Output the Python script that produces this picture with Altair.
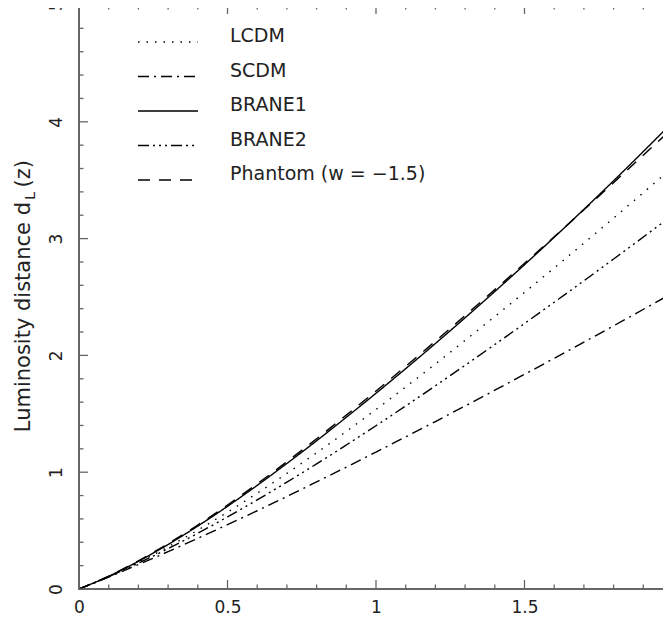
import altair as alt
import pandas as pd

# ---- data ----
z = [0.0, 0.1, 0.2, 0.3, 0.4, 0.5, 0.6, 0.7, 0.8, 0.9, 1.0, 1.2, 1.4, 1.6, 1.8, 2.0]
lcdm = [0.0, 0.107, 0.228, 0.361, 0.504, 0.658, 0.820, 0.990, 1.166, 1.349, 1.537, 1.927, 2.333, 2.749, 3.176, 3.612]
scdm = [0.0, 0.102, 0.209, 0.320, 0.434, 0.551, 0.670, 0.792, 0.917, 1.043, 1.172, 1.434, 1.702, 1.975, 2.253, 2.536]
brane1 = [0.0, 0.109, 0.237, 0.381, 0.539, 0.708, 0.887, 1.075, 1.269, 1.470, 1.676, 2.102, 2.547, 3.011, 3.495, 4.000]
brane2 = [0.0, 0.105, 0.221, 0.345, 0.477, 0.617, 0.763, 0.915, 1.071, 1.233, 1.398, 1.740, 2.093, 2.455, 2.825, 3.203]
phantom = [0.0, 0.111, 0.241, 0.388, 0.548, 0.719, 0.901, 1.090, 1.286, 1.489, 1.695, 2.122, 2.563, 3.016, 3.479, 3.950]

series_names = ["LCDM", "SCDM", "BRANE1", "BRANE2", "Phantom"]
legend_labels = ["LCDM", "SCDM", "BRANE1", "BRANE2", "Phantom  (w = \u22121.5)"]
dash_patterns = [[1.5, 7], [11, 5, 2, 5], [1, 0], [11, 4, 2, 4, 2, 4, 2, 4], [12, 9]]

x_major = [0, 0.5, 1, 1.5, 2]
x_minor = [0.1, 0.2, 0.3, 0.4, 0.6, 0.7, 0.8, 0.9, 1.1, 1.2, 1.3, 1.4, 1.6, 1.7, 1.8, 1.9]
y_major = [0, 1, 2, 3, 4, 5]
y_minor = [0.2, 0.4, 0.6, 0.8, 1.2, 1.4, 1.6, 1.8, 2.2, 2.4, 2.6, 2.8,
           3.2, 3.4, 3.6, 3.8, 4.2, 4.4, 4.6, 4.8]

W, H = 594, 584
FONT = "DejaVu Sans"
AX = "#666666"

rows = []
for name, vals in zip(series_names, [lcdm, scdm, brane1, brane2, phantom]):
    for zz, v in zip(z, vals):
        rows.append({"z": zz, "dL": v, "series": name})
df = pd.DataFrame(rows)

dash_scale = alt.Scale(domain=series_names, range=dash_patterns)
xs = alt.Scale(domain=[0, 2], nice=False, zero=False)
ys = alt.Scale(domain=[0, 5], nice=False, zero=False)

curves = alt.Chart(df).mark_line(color="black", strokeWidth=1.4, interpolate="monotone", clip=True).encode(
    x=alt.X("z:Q", scale=xs, axis=alt.Axis(values=x_major, format="~g", title=None, ticks=False, tickSize=0,
                                          domain=False, grid=False, labelFontSize=17, labelFont=FONT,
                                          labelColor="#222", labelPadding=10, labelFlush=False,
                                          labelOverlap=False, labelBound=False)),
    y=alt.Y("dL:Q", scale=ys, axis=alt.Axis(values=y_major, format="d", title=None, ticks=False, tickSize=0,
                                           domain=False, grid=False, labelFontSize=17, labelFont=FONT,
                                           labelColor="#222", labelAngle=270, labelAlign="center",
                                           labelBaseline="alphabetic", labelPadding=18, labelFlush=False,
                                           labelOverlap=False, labelBound=False)),
    strokeDash=alt.StrokeDash("series:N", scale=dash_scale, legend=None),
    detail="series:N",
)

# inward ticks on all four sides
def xticks(vals, length):
    d = pd.DataFrame({"v": vals})
    b = alt.Chart(d).mark_rule(color=AX, strokeWidth=1.3).encode(
        x=alt.X("v:Q", scale=xs), y=alt.value(H), y2=alt.value(H - length))
    t = alt.Chart(d).mark_rule(color=AX, strokeWidth=1.3).encode(
        x=alt.X("v:Q", scale=xs), y=alt.value(0), y2=alt.value(length))
    return [b, t]

def yticks(vals, length):
    d = pd.DataFrame({"v": vals})
    l = alt.Chart(d).mark_rule(color=AX, strokeWidth=1.3).encode(
        y=alt.Y("v:Q", scale=ys), x=alt.value(0), x2=alt.value(length))
    r = alt.Chart(d).mark_rule(color=AX, strokeWidth=1.3).encode(
        y=alt.Y("v:Q", scale=ys), x=alt.value(W), x2=alt.value(W - length))
    return [l, r]

tick_layers = xticks(x_major, 9) + xticks(x_minor, 4.5) + yticks(y_major, 9) + yticks(y_minor, 4.5)

# legend (drawn inside the plot)
leg = pd.DataFrame({"series": series_names, "label": legend_labels,
                    "ly": [37 + 34.5 * i for i in range(len(series_names))]})
leg_lines = alt.Chart(leg).mark_rule(color="black", strokeWidth=1.4).encode(
    x=alt.value(59), x2=alt.value(119),
    y=alt.Y("ly:Q", scale=None),
    strokeDash=alt.StrokeDash("series:N", scale=dash_scale, legend=None),
)
leg_text = alt.Chart(leg).mark_text(align="left", baseline="alphabetic", fontSize=19, font=FONT,
                                    color="#222").encode(
    x=alt.value(151), y=alt.Y("ly:Q", scale=None), text="label:N")

# y-axis title with subscript
t1 = alt.Chart(pd.DataFrame({"t": ["Luminosity distance d"]})).mark_text(
    angle=270, align="right", baseline="alphabetic", fontSize=21, font=FONT, color="#222").encode(
    x=alt.value(-49), y=alt.value(197), text="t:N")
t2 = alt.Chart(pd.DataFrame({"t": ["L"]})).mark_text(
    angle=270, align="right", baseline="alphabetic", fontSize=14, font=FONT, color="#222").encode(
    x=alt.value(-44), y=alt.value(187), text="t:N")
t3 = alt.Chart(pd.DataFrame({"t": ["(z)"]})).mark_text(
    angle=270, align="right", baseline="alphabetic", fontSize=21, font=FONT, color="#222").encode(
    x=alt.value(-49), y=alt.value(155), text="t:N")

chart = alt.layer(curves, *tick_layers, leg_lines, leg_text, t1, t2, t3).properties(
    width=W, height=H,
    autosize=alt.AutoSizeParams(type="none"),
    padding={"left": 71, "top": -3, "right": -10, "bottom": 26},
    background="white",
).configure_view(stroke=AX, strokeWidth=2)

chart.save("out.html", embed_options={"renderer": "svg", "actions": False})
